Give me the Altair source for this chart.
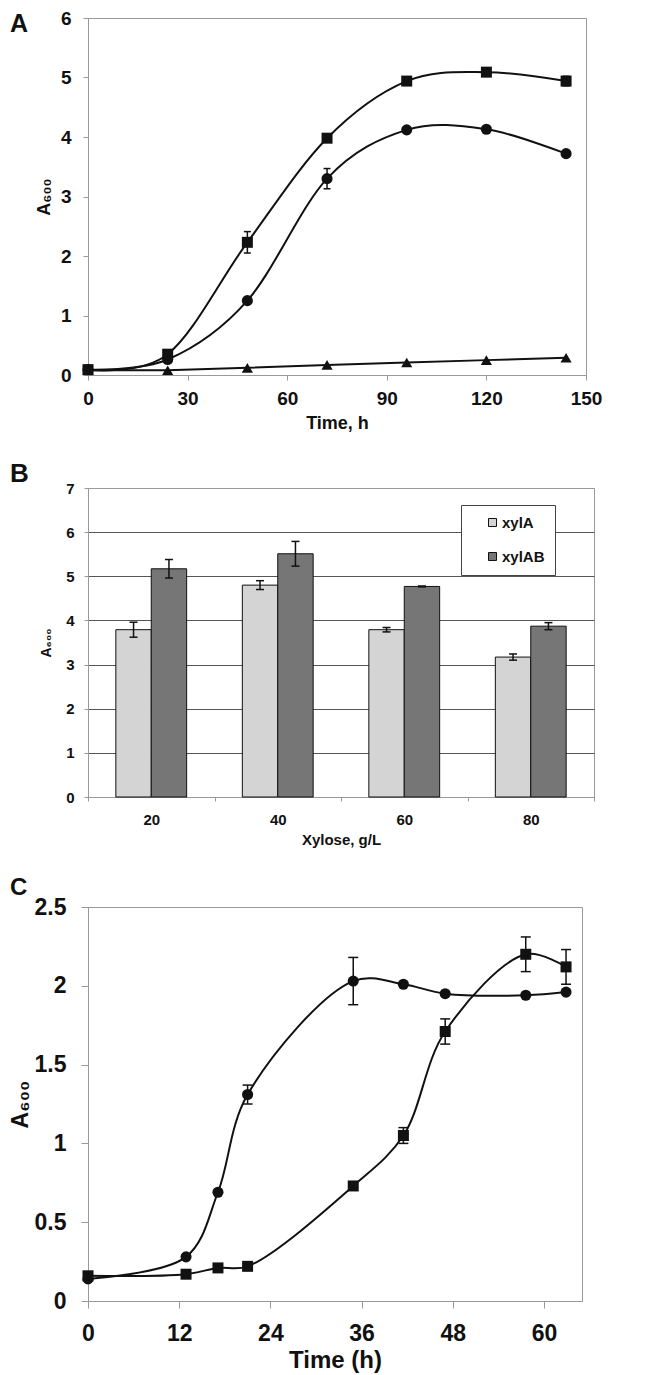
import altair as alt
import pandas as pd

FONT = "Liberation Sans"
BLACK = "#111111"
FRAME = "#999999"

# ---------- Panel A ----------
a_time = [0, 24, 48, 72, 96, 120, 144]
a_square = [0.09, 0.35, 2.23, 3.98, 4.94, 5.09, 4.94]
a_square_err = [0, 0, 0.18, 0, 0, 0, 0.08]
a_circle = [0.09, 0.26, 1.25, 3.30, 4.12, 4.13, 3.72]
a_circle_err = [0, 0, 0, 0.17, 0, 0, 0]
a_triangle = [0.08, 0.08, 0.12, 0.17, 0.21, 0.25, 0.29]
a_triangle_err = [0, 0, 0, 0, 0, 0, 0]
a_xticks = [0, 30, 60, 90, 120, 150]
a_yticks = [0, 1, 2, 3, 4, 5, 6]

# ---------- Panel B ----------
b_xylose = ["20", "40", "60", "80"]
b_strains = ["xylA", "xylAB"]
b_xylA = [3.79, 4.80, 3.79, 3.17]
b_xylA_err = [0.17, 0.10, 0.05, 0.07]
b_xylAB = [5.17, 5.51, 4.77, 3.87]
b_xylAB_err = [0.21, 0.28, 0.01, 0.08]
b_yticks = [0, 1, 2, 3, 4, 5, 6, 7]
b_colors = ["#d4d4d4", "#767676"]

# ---------- Panel C ----------
c_time = [0, 12.9, 17.1, 21, 34.9, 41.5, 47, 57.6, 62.9]
c_circle = [0.14, 0.28, 0.69, 1.31, 2.03, 2.01, 1.95, 1.94, 1.96]
c_circle_err = [0, 0, 0, 0.06, 0.15, 0, 0, 0, 0]
c_square = [0.16, 0.17, 0.21, 0.22, 0.73, 1.05, 1.71, 2.20, 2.12]
c_square_err = [0, 0, 0, 0, 0, 0.05, 0.08, 0.11, 0.11]
c_xticks = [0, 12, 24, 36, 48, 60]
c_yticks = [0, 0.5, 1, 1.5, 2, 2.5]


def series_df(times, series):
    rows = []
    for name, vals, errs in series:
        for t, v, e in zip(times, vals, errs):
            rows.append(dict(t=t, v=v, e=e, lo=v - e, hi=v + e, s=name))
    return pd.DataFrame(rows)


def make_axis(values, title, lsize, tsize, tick, lpad, tpad, fmt=None, grid=False, **kw):
    args = dict(values=values, title=title, labelFont=FONT, labelFontSize=lsize,
                labelFontWeight="bold", labelColor=BLACK, titleFont=FONT,
                titleFontSize=tsize, titleFontWeight="bold", titleColor=BLACK,
                tickSize=tick, tickColor=FRAME, domainColor=FRAME, labelPadding=lpad,
                titlePadding=tpad, labelFlush=False, labelOverlap=False, grid=grid)
    if fmt:
        args["format"] = fmt
    args.update(kw)
    return alt.Axis(**args)


def letter_layer(letter, size, dx, dy):
    return alt.Chart(pd.DataFrame({"l": [letter]})).mark_text(
        align="left", baseline="top", font=FONT, fontSize=size, fontWeight="bold",
        color=BLACK).encode(text="l:N", x=alt.value(dx), y=alt.value(dy))


def line_panel(df, smooth, straight, shape_dom, shape_rng, size_rng, xdom, ydom,
               xaxis, yaxis, cap, width, height, letter, interp):
    X = alt.X("t:Q", scale=alt.Scale(domain=xdom, nice=False, zero=False), axis=xaxis)
    Y = alt.Y("v:Q", scale=alt.Scale(domain=ydom, nice=False), axis=yaxis)
    Ylo = alt.Y("lo:Q", scale=alt.Scale(domain=ydom, nice=False), axis=yaxis)
    Yhi = alt.Y("hi:Q", scale=alt.Scale(domain=ydom, nice=False), axis=yaxis)
    base = alt.Chart(df)
    layers = []
    sm = alt.FieldOneOfPredicate(field="s", oneOf=smooth)
    layers.append(base.transform_filter(sm).mark_line(
        interpolate=interp, color=BLACK, strokeWidth=2).encode(x=X, y=Y, detail="s:N"))
    if straight:
        st = alt.FieldOneOfPredicate(field="s", oneOf=straight)
        layers.append(base.transform_filter(st).mark_line(
            color=BLACK, strokeWidth=2).encode(x=X, y=Y, detail="s:N"))
    eb = base.transform_filter("datum.e > 0")
    layers.append(eb.mark_rule(color=BLACK, strokeWidth=1.5).encode(x=X, y=Ylo, y2="hi:Q"))
    layers.append(eb.mark_tick(orient="horizontal", size=cap, thickness=1.5,
                               color=BLACK, opacity=1).encode(x=X, y=Ylo))
    layers.append(eb.mark_tick(orient="horizontal", size=cap, thickness=1.5,
                               color=BLACK, opacity=1).encode(x=X, y=Yhi))
    layers.append(base.mark_point(filled=True, opacity=1, color=BLACK, strokeWidth=0).encode(
        x=X, y=Y,
        shape=alt.Shape("s:N", scale=alt.Scale(domain=shape_dom, range=shape_rng), legend=None),
        size=alt.Size("s:N", scale=alt.Scale(domain=shape_dom, range=size_rng), legend=None)))
    layers.append(letter)
    return alt.layer(*layers).properties(width=width, height=height)


# ---------- build A ----------
dfA = series_df(a_time, [("square", a_square, a_square_err),
                         ("circle", a_circle, a_circle_err),
                         ("triangle", a_triangle, a_triangle_err)])
chartA = line_panel(
    dfA, ["square", "circle"], ["triangle"],
    ["square", "circle", "triangle"], ["square", "circle", "triangle-up"], [121, 125, 115],
    [0, 150], [0, 6],
    make_axis(a_xticks, "Time, h", 19, 18, 5, 9, 6, fmt="d"),
    make_axis(a_yticks, "A₆₀₀", 19, 18, 5, 12, 7, fmt="d"),
    7, 498, 357, letter_layer("A", 25, -78, -6), "cardinal")

# ---------- build B ----------
rowsB = []
for strain, vals, errs in [("xylA", b_xylA, b_xylA_err), ("xylAB", b_xylAB, b_xylAB_err)]:
    for xv, v, e in zip(b_xylose, vals, errs):
        rowsB.append(dict(xylose=xv, strain=strain, v=v, e=e, lo=v - e, hi=v + e))
dfB = pd.DataFrame(rowsB)

bx_axis = alt.Axis(title="Xylose, g/L", labelAngle=0, tickBand="extent", labelFont=FONT,
                   labelFontSize=15, labelFontWeight="bold", labelColor=BLACK,
                   titleFont=FONT, titleFontSize=15, titleFontWeight="bold", titleColor=BLACK,
                   tickSize=4, tickColor=FRAME, domainColor=FRAME, labelPadding=11,
                   titlePadding=5, grid=False)
by_axis = make_axis(b_yticks, "A₆₀₀", 15, 14, 4, 10, 12, fmt="d", grid=True,
                    gridColor={"condition": {"test": "datum.value == 7", "value": FRAME},
                               "value": "#555555"},
                    gridWidth=1)
BX = alt.X("xylose:N", sort=b_xylose, scale=alt.Scale(paddingInner=0, paddingOuter=0), axis=bx_axis)
BXO = alt.XOffset("strain:N", sort=b_strains, scale=alt.Scale(paddingInner=0, paddingOuter=0.786))
BYs = alt.Scale(domain=[0, 7], nice=False)

bars = alt.Chart(dfB).mark_bar(stroke=BLACK, strokeWidth=1).encode(
    x=BX, xOffset=BXO,
    y=alt.Y("v:Q", scale=BYs, axis=by_axis),
    color=alt.Color("strain:N", scale=alt.Scale(domain=b_strains, range=b_colors),
                    legend=alt.Legend(title=None, orient="none", legendX=373, legendY=487,
                                      direction="vertical", fillColor="white",
                                      strokeColor="#444444", padding=10, rowPadding=18,
                                      symbolType="square", symbolSize=64,
                                      symbolStrokeColor=BLACK, symbolStrokeWidth=1,
                                      symbolOffset=14, labelFont=FONT, labelFontSize=15,
                                      labelFontWeight="bold", labelColor=BLACK, labelOffset=2)))
b_rule = alt.Chart(dfB).mark_rule(color=BLACK, strokeWidth=1.5).encode(
    x=BX, xOffset=BXO, y=alt.Y("lo:Q", scale=BYs, axis=by_axis), y2="hi:Q")
b_cap_lo = alt.Chart(dfB).mark_tick(orient="horizontal", size=8, thickness=1.5, color=BLACK,
                                    opacity=1).encode(
    x=BX, xOffset=BXO, y=alt.Y("lo:Q", scale=BYs, axis=by_axis))
b_cap_hi = alt.Chart(dfB).mark_tick(orient="horizontal", size=8, thickness=1.5, color=BLACK,
                                    opacity=1).encode(
    x=BX, xOffset=BXO, y=alt.Y("hi:Q", scale=BYs, axis=by_axis))
chartB = alt.layer(bars, b_rule, b_cap_lo, b_cap_hi, letter_layer("B", 26, -78, -27)).properties(
    width=506, height=309)

# ---------- build C ----------
dfC = series_df(c_time, [("circle", c_circle, c_circle_err),
                         ("square", c_square, c_square_err)])
chartC = line_panel(
    dfC, ["circle", "square"], [],
    ["circle", "square"], ["circle", "square"], [180, 130],
    [0, 65], [0, 2.5],
    make_axis(c_xticks, "Time (h)", 23, 24, 7, 14, 3, fmt="d"),
    make_axis(c_yticks, "A₆₀₀", 23, 23, 7, 15, 2, fmt="~g"),
    10, 494, 394, letter_layer("C", 24, -78, -31), "catmull-rom")

chart = alt.vconcat(chartA, chartB, chartC, spacing=27).properties(padding=0).configure_view(
    stroke=FRAME, strokeWidth=1)

chart.save("out.html", embed_options={"renderer": "svg", "actions": False})
